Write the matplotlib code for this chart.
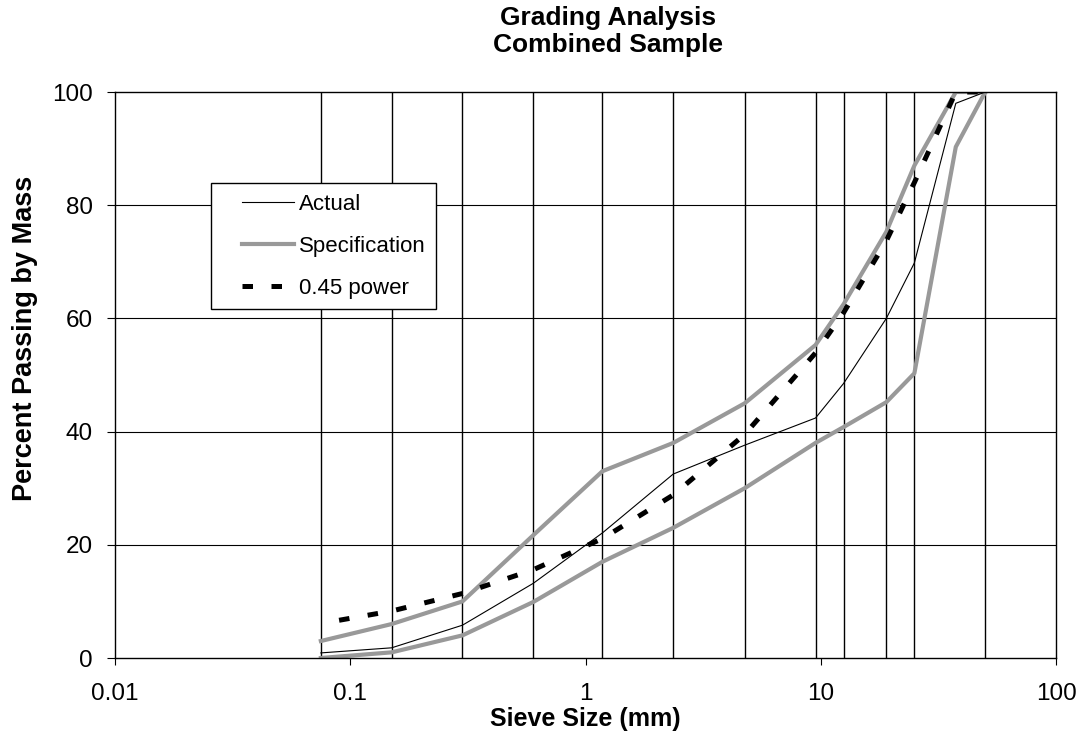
import matplotlib
matplotlib.use("Agg")
import matplotlib.pyplot as plt
from matplotlib.legend_handler import HandlerLine2D

plt.rcParams['font.family'] = ['Liberation Sans', 'DejaVu Sans']

# sieve sizes (mm) and percent passing
sieves = [0.075, 0.15, 0.3, 0.6, 1.18, 2.36, 4.75, 9.5, 12.5, 19, 25, 37.5, 50]
actual = [0.9, 1.8, 5.8, 13.2, 22.1, 32.5, 37.6, 42.4, 48.5, 60, 69.8, 98, 100]
spec_upper = [3, 6, 10, 21.7, 33, 38, 45, 55.3, 62.5, 75.3, 87, 100, 100]
spec_lower = [0, 1, 4, 9.9, 17, 23, 30, 38, 40.8, 45.2, 50.3, 90.3, 100]
power045 = [6.1, 8.3, 11.4, 15.6, 21.1, 28.8, 39.5, 53.9, 61, 73.7, 84, 100, 100]

# sieves that get a vertical grid line in the original sheet
grid_sieves = [0.075, 0.15, 0.3, 0.6, 1.18, 2.36, 4.75, 9.5, 12.5, 19, 25, 50]


class IndentHandler(HandlerLine2D):
    # excel style legend: line sample starts a bit in from the box edge
    def create_artists(self, legend, orig_handle, xdescent, ydescent,
                       width, height, fontsize, trans):
        arts = super().create_artists(legend, orig_handle, xdescent, ydescent,
                                      width, height, fontsize, trans)
        x0 = -xdescent
        x1 = -xdescent + width
        for a in arts:
            y = a.get_ydata()
            a.set_data([x0 + 0.28 * (x1 - x0), x1], [y[0], y[0]])
            if orig_handle.get_label() == '0.45 power':
                a.set_linestyle((0, (2.1, 3.7)))
        return arts


fig = plt.figure(figsize=(10.8, 7.4), dpi=100)
ax = fig.add_axes([0.10648, 0.11081, 0.87130, 0.76486])

for yv in [20, 40, 60, 80]:
    ax.axhline(yv, color='black', lw=0.8, zorder=1)
ax.vlines(grid_sieves, 0, 100, color='black', lw=1.0, zorder=1)

gray = '#999999'
ax.plot(sieves, actual, color='black', lw=0.8, label='Actual', zorder=3)
ax.plot(sieves, spec_upper, color=gray, lw=3.0, label='Specification', zorder=2)
ax.plot(sieves, spec_lower, color=gray, lw=3.0, zorder=2)
ax.plot(sieves, power045, color='black', lw=3.6, linestyle=(2.1, (2.1, 3.7)),
        label='0.45 power', zorder=4)

ax.set_xscale('log')
ax.set_xlim(0.01, 100)
ax.set_ylim(0, 100)
ax.set_xticks([0.01, 0.1, 1, 10, 100])
ax.set_xticklabels(['0.01', '0.1', '1', '10', '100'])
ax.xaxis.set_minor_locator(matplotlib.ticker.NullLocator())
ax.set_yticks([0, 20, 40, 60, 80, 100])
ax.tick_params(axis='x', labelsize=17.5, length=5, width=0.8, direction='out', pad=13)
ax.tick_params(axis='y', labelsize=17.5, length=6, width=0.8, direction='out', pad=10)

for s in ['top', 'right', 'left', 'bottom']:
    ax.spines[s].set_linewidth(1)

ax.set_xlabel('Sieve Size (mm)', fontsize=18, fontweight='bold')
ax.xaxis.set_label_coords(0.5, -0.086)
ax.set_ylabel('Percent Passing by Mass', fontsize=19.5, fontweight='bold')
ax.yaxis.set_label_coords(-0.082, 0.564)
ax.set_title('Grading Analysis\nCombined Sample', fontsize=19, fontweight='bold',
             pad=29, linespacing=1.12, x=0.524)

leg = ax.legend(loc='upper left', bbox_to_anchor=(0.102, 0.839), fontsize=16,
                frameon=True, fancybox=False, edgecolor='black', framealpha=1,
                handlelength=3.25, handletextpad=0.23, labelspacing=0.95,
                borderpad=0.47, borderaxespad=0,
                handler_map={matplotlib.lines.Line2D: IndentHandler()})
leg.get_frame().set_linewidth(1)

fig.savefig('out.png', dpi=100)
